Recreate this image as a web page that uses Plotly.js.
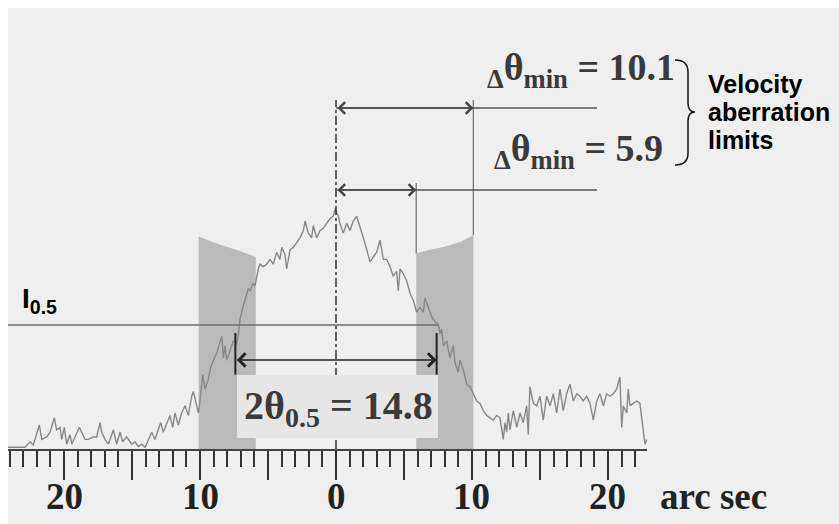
<!DOCTYPE html>
<html>
<head>
<meta charset="utf-8">
<script src="https://cdn.plot.ly/plotly-3.0.1.min.js"></script>
<style>html,body{margin:0;padding:0;background:#fff;}#chart{width:839px;height:524px;}</style>
</head>
<body>
<div id="chart"></div>
<script>
// ---- data ----
const offsetArcsec = [-24.12,-22.87,-22.5,-22.26,-21.81,-21.64,-21.27,-21.03,-20.71,-20.54,-20.29,-20.17,-19.98,-19.8,-19.56,-19.43,-19.19,-18.87,-18.7,-18.46,-18.21,-17.85,-17.6,-17.35,-17.23,-16.99,-16.74,-16.37,-16.13,-15.88,-15.69,-15.39,-15.02,-14.78,-14.54,-14.29,-14.04,-13.8,-13.55,-13.31,-13.07,-12.89,-12.7,-12.45,-12.21,-12.01,-11.84,-11.6,-11.35,-11.1,-10.86,-10.61,-10.49,-10.24,-10.12,-10.0,-9.8,-9.63,-9.39,
-9.26,-9.02,-8.77,-8.53,-8.4,-8.28,-8.16,-8.04,-7.79,-7.55,-7.3,-7.18,-7.06,-6.93,-6.81,-6.69,-6.57,-6.45,-6.32,-6.08,-5.96,-5.83,-5.71,-5.59,-5.35,-5.1,-4.85,-4.61,-4.36,-4.12,-3.99,-3.75,-3.63,-3.38,-3.14,-2.89,-2.65,-2.4,-2.28,-2.04,-1.79,-1.67,-1.42,-1.18,-0.93,-0.68,-0.44,-0.2,-0.07,0.17,
0.29,0.54,0.79,1.03,1.27,1.52,1.76,2.01,2.26,2.5,2.74,2.99,3.24,3.48,3.73,3.97,4.21,4.46,4.58,4.71,4.95,5.2,5.44,5.68,5.93,6.18,6.42,6.54,6.79,7.04,7.28,7.52,7.65,7.77,7.89,8.14,8.38,8.63,8.75,8.99,9.12,9.36,9.61,9.85,10.1,10.35,10.59,
10.83,11.08,11.32,11.57,11.82,12.06,12.3,12.43,12.55,12.67,12.79,13.04,13.29,13.53,13.77,14.02,14.14,14.26,14.51,14.76,15.0,15.24,15.49,15.74,15.98,16.23,16.47,16.71,16.96,17.21,17.45,17.7,17.94,18.18,18.43,18.68,18.92,19.17,19.41,19.66,19.9,20.15,20.39,20.64,20.88,21.01,21.13,21.38,21.49,21.62,21.86,22.11,22.35,22.48,22.6,22.72,22.85];
const intensity = [0.007,0.007,0.03,0.017,0.10,0.04,0.05,0.07,0.13,0.08,0.09,0.04,0.09,0.02,0.06,0.02,0.05,0.09,0.07,0.04,0.04,0.05,0.05,0.11,0.07,0.04,0.02,0.08,0.02,0.07,0.03,0.05,0.02,0.03,0.01,0.02,0.007,0.04,0.07,0.04,0.08,0.11,0.07,0.11,0.14,0.09,0.15,0.10,0.15,0.18,0.14,0.22,0.24,0.18,0.15,0.20,0.31,0.25,0.29,
0.33,0.37,0.40,0.44,0.47,0.38,0.43,0.37,0.41,0.45,0.44,0.48,0.54,0.58,0.60,0.62,0.65,0.67,0.66,0.69,0.68,0.72,0.75,0.77,0.76,0.77,0.79,0.77,0.82,0.79,0.84,0.81,0.75,0.83,0.84,0.86,0.88,0.91,0.95,0.90,0.88,0.93,0.88,0.91,0.92,0.94,0.96,0.97,1.00,0.97,
0.94,0.90,0.94,0.91,0.95,0.97,0.93,0.88,0.83,0.78,0.80,0.82,0.87,0.79,0.79,0.76,0.72,0.74,0.66,0.75,0.73,0.70,0.65,0.62,0.57,0.59,0.57,0.63,0.59,0.55,0.53,0.52,0.48,0.50,0.43,0.45,0.38,0.43,0.36,0.32,0.37,0.33,0.27,0.26,0.23,0.20,0.19,
0.16,0.14,0.13,0.12,0.14,0.13,0.04,0.11,0.07,0.15,0.08,0.16,0.09,0.15,0.11,0.18,0.06,0.26,0.19,0.18,0.22,0.12,0.22,0.18,0.23,0.15,0.25,0.16,0.23,0.27,0.20,0.23,0.22,0.20,0.22,0.19,0.12,0.20,0.23,0.18,0.23,0.22,0.23,0.25,0.30,0.09,0.18,0.15,0.25,0.18,0.19,0.20,0.19,0.12,0.07,0.02,0.04];

const bandLeftX = [-10.1,-9.3,-8.3,-7.1,-5.9];
const bandLeftTop = [0.885,0.868,0.847,0.826,0.80];
const bandRightX = [5.9,6.8,8.0,9.2,10.1];
const bandRightTop = [0.815,0.829,0.843,0.864,0.892];

const aberrationLimits = [10.1, 5.9];   // Δθmin values
const fullWidthHalfMax = 14.8;          // 2θ0.5
const halfLevel = 0.517;                // I0.5
const majorTicks = [-20,-15,-10,-5,0,5,10,15,20];
const labelTicks = [-20,-10,0,10,20];
const labelTickText = ['20','10','0','10','20'];

// ---- helpers ----
const L = 8, R = 192, T = 8, B = 75, W = 839, H = 524;
const pw = W - L - R, ph = H - T - B;
const xRange = [-24.12, 22.87], yRange = [0, ph / 240];
const px = x => (x - L) / pw;
const py = y => (H - B - y) / ph;

const serif = 'Liberation Serif, Times New Roman, serif';
const sans = 'Liberation Sans, Arial, sans-serif';

function bandTrace(xs, tops) {
  const x = [xs[0]].concat(xs, [xs[xs.length - 1]]);
  const y = [0].concat(tops, [0]);
  return {x: x, y: y, type: 'scatter', mode: 'lines', fill: 'toself',
    fillcolor: '#bababa', line: {width: 0}, hoverinfo: 'skip', showlegend: false};
}

const traces = [
  bandTrace(bandLeftX, bandLeftTop),
  bandTrace(bandRightX, bandRightTop),
  {x: offsetArcsec, y: intensity, type: 'scatter', mode: 'lines',
   line: {color: '#878787', width: 1.4}, hoverinfo: 'skip', showlegend: false}
];

const outer = aberrationLimits[0], inner = aberrationLimits[1];
const hw = fullWidthHalfMax / 2;
const yTop = 1.421, ySecond = 1.079, yLineTop = 1.454, yArrow2t = 0.371;
const lineEnd = 19.19;

const shapes = [
  {type:'line', xref:'x', yref:'y', x0:0, x1:0, y0:0, y1:yLineTop, line:{color:'#333', width:1.5, dash:'dashdot'}},
  {type:'line', xref:'x', yref:'y', x0:outer, x1:outer, y0:bandRightTop[4], y1:yLineTop, line:{color:'#777', width:1.3}},
  {type:'line', xref:'x', yref:'y', x0:inner, x1:inner, y0:bandRightTop[0], y1:1.108, line:{color:'#777', width:1.3}},
  {type:'line', xref:'x', yref:'y', x0:0, x1:lineEnd, y0:yTop, y1:yTop, line:{color:'#555', width:1.5}},
  {type:'line', xref:'x', yref:'y', x0:0, x1:lineEnd, y0:ySecond, y1:ySecond, line:{color:'#555', width:1.5}},
  {type:'line', xref:'x', yref:'y', x0:xRange[0], x1:hw + 0.1, y0:halfLevel, y1:halfLevel, line:{color:'#6e6e6e', width:1.5}},
  {type:'rect', xref:'x', yref:'y', x0:-7.28, x1:7.5, y0:0.046, y1:0.308, fillcolor:'#e6e6e6', line:{width:0}},
  {type:'line', xref:'x', yref:'y', x0:-hw, x1:-hw, y0:0.31, y1:0.483, line:{color:'#222', width:2}},
  {type:'line', xref:'x', yref:'y', x0:hw, x1:hw, y0:0.31, y1:0.483, line:{color:'#222', width:2}},
  // white border of the scan
  {type:'rect', xref:'paper', yref:'paper', x0:px(0), x1:px(W), y0:py(0), y1:py(T), fillcolor:'#ffffff', line:{width:0}, layer:'above'},
  {type:'rect', xref:'paper', yref:'paper', x0:px(0), x1:px(L), y0:py(0), y1:py(H), fillcolor:'#ffffff', line:{width:0}, layer:'above'},
  // brace
  {type:'path', xref:'paper', yref:'paper', line:{color:'#111', width:1.5},
   path: `M${px(675)},${py(60)} Q${px(688)},${py(60)} ${px(688)},${py(72)} L${px(688)},${py(103)} Q${px(688)},${py(112)} ${px(695)},${py(112)} Q${px(688)},${py(112)} ${px(688)},${py(121)} L${px(688)},${py(153)} Q${px(688)},${py(165)} ${px(675)},${py(165)}`}
];

function arrow(x0, x1, y, color, w) {
  return {x:x1, y:y, ax:x0, ay:y, xref:'x', yref:'y', axref:'x', ayref:'y', text:'',
    showarrow:true, arrowside:'end+start', arrowhead:4, startarrowhead:4,
    arrowsize:1.6, startarrowsize:1.6, arrowwidth:w, arrowcolor:color, standoff:0, startstandoff:0};
}

const thetaColor = '#3a3a3a';
const annotations = [
  arrow(-hw, hw, yArrow2t, '#222', 1.6),
  arrow(0, outer, yTop, '#444', 1.4),
  arrow(0, inner, ySecond, '#444', 1.4),
  {xref:'paper', yref:'paper', x:px(20), y:py(300), xanchor:'left', yanchor:'middle', showarrow:false,
   text:'I<sub>0.5</sub>', font:{family:sans, size:28, color:'#000', weight:'bold'}},
  {xref:'paper', yref:'paper', x:px(677), y:py(70), xanchor:'right', yanchor:'middle', showarrow:false,
   text:'<sub>Δ</sub>θ<sub>min</sub> = ' + aberrationLimits[0].toFixed(1), font:{family:serif, size:38, color:thetaColor, weight:'bold'}},
  {xref:'paper', yref:'paper', x:px(665), y:py(151), xanchor:'right', yanchor:'middle', showarrow:false,
   text:'<sub>Δ</sub>θ<sub>min</sub> = ' + aberrationLimits[1].toFixed(1), font:{family:serif, size:38, color:thetaColor, weight:'bold'}},
  {xref:'paper', yref:'paper', x:px(706), y:py(84), xanchor:'left', yanchor:'middle', showarrow:false,
   text:'Velocity', font:{family:sans, size:25, color:'#000', weight:'bold'}},
  {xref:'paper', yref:'paper', x:px(706), y:py(112), xanchor:'left', yanchor:'middle', showarrow:false,
   text:'aberration', font:{family:sans, size:25, color:'#000', weight:'bold'}},
  {xref:'paper', yref:'paper', x:px(706), y:py(140), xanchor:'left', yanchor:'middle', showarrow:false,
   text:'limits', font:{family:sans, size:25, color:'#000', weight:'bold'}},
  {xref:'paper', yref:'paper', x:px(338), y:py(408), xanchor:'center', yanchor:'middle', showarrow:false,
   text:'2θ<sub>0.5</sub> = ' + fullWidthHalfMax.toFixed(1), font:{family:serif, size:40, color:thetaColor, weight:'bold'}},
  {xref:'paper', yref:'paper', x:px(658), y:py(497), xanchor:'left', yanchor:'middle', showarrow:false,
   text:'arc sec', font:{family:serif, size:37, color:'#222', weight:'bold'}}
];
labelTicks.forEach((v, i) => {
  annotations.push({xref:'x', yref:'paper', x:v, y:py(496), xanchor:'center', yanchor:'middle', showarrow:false,
    text: labelTickText[i], font:{family:serif, size:37, color:'#222', weight:'bold'}});
});

const layout = {
  width: W, height: H,
  margin: {l:L, r:R, t:T, b:B, pad:0},
  paper_bgcolor: '#efefef',
  plot_bgcolor: 'rgba(0,0,0,0)',
  showlegend: false,
  xaxis: {
    range: xRange, showgrid:false, zeroline:false, fixedrange:true,
    showline:true, linecolor:'#444', linewidth:2,
    ticks:'outside', tickmode:'array', tickvals: majorTicks, showticklabels:false,
    ticklen:29, tickwidth:2, tickcolor:'#333',
    minor:{tickmode:'linear', tick0:0, dtick:1, ticklen:16, tickwidth:2, tickcolor:'#333', ticks:'outside', showgrid:false}
  },
  yaxis: {range: yRange, visible:false, fixedrange:true},
  shapes: shapes,
  annotations: annotations
};

Plotly.newPlot('chart', traces, layout, {staticPlot:true, displayModeBar:false});
</script>
</body>
</html>
